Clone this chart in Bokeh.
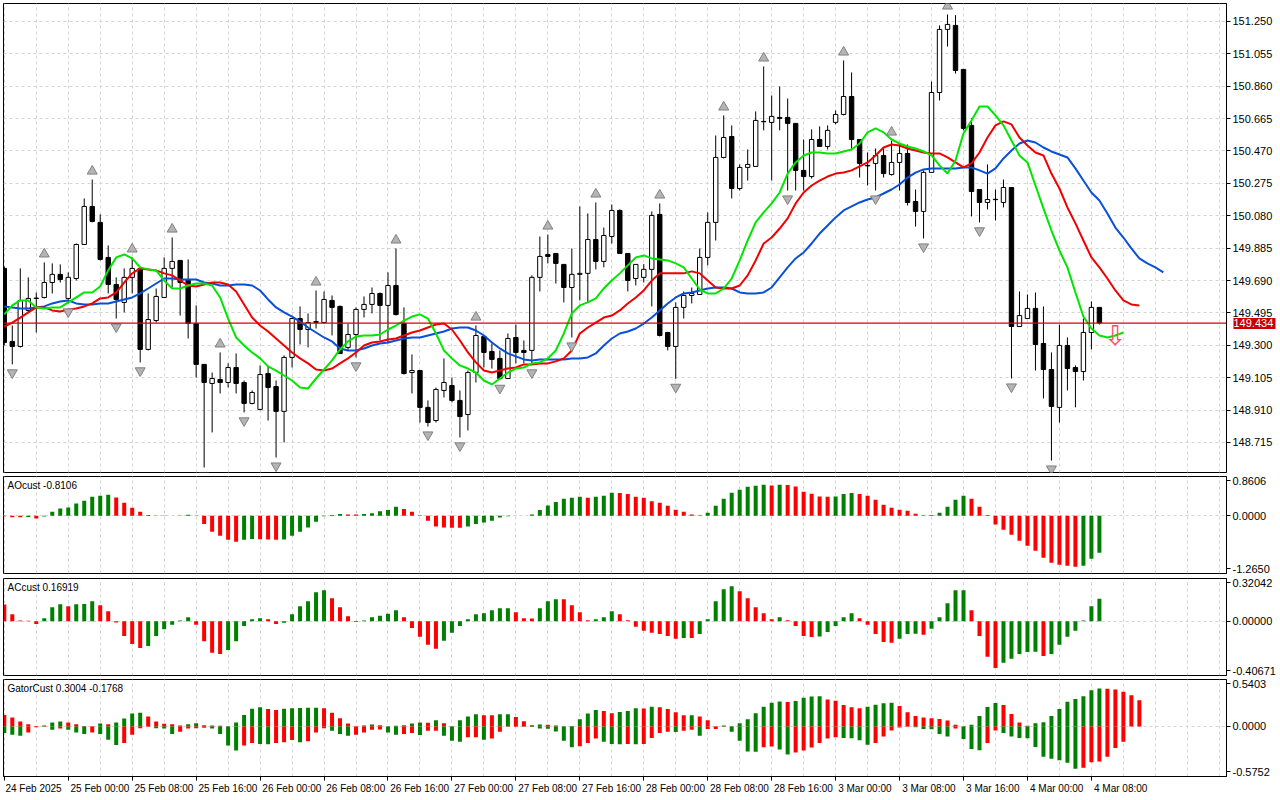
from bokeh.plotting import figure
from bokeh.layouts import column
from bokeh.models import Range1d, FixedTicker, LinearAxis, Label
from bokeh.embed import file_html
from bokeh.resources import INLINE
from bokeh.core.properties import value

# ---------------- data (H1 bars, 24 Feb 2025 16:00 -> 4 Mar 2025 09:00) ----------------
open_ = [149.763, 149.323, 149.293, 149.510, 149.584, 149.588, 149.678, 149.727, 149.582, 149.702,
         149.907, 150.136, 150.040, 149.829, 149.666, 149.558, 149.709, 149.763, 149.275, 149.449,
         149.588, 149.763, 149.811, 149.690, 149.431, 149.185, 149.070, 149.094, 149.076, 149.166,
         149.076, 148.950, 148.914, 149.130, 149.052, 148.902, 149.227, 149.461, 149.395, 149.437,
         149.437, 149.570, 149.534, 149.287, 149.365, 149.516, 149.546, 149.612, 149.540, 149.660,
         149.431, 149.136, 149.148, 148.926, 148.847, 149.028, 149.058, 148.968, 148.883, 149.136,
         149.353, 149.263, 149.221, 149.100, 149.347, 149.269, 149.269, 149.709, 149.847, 149.853,
         149.787, 149.648, 149.727, 149.733, 149.937, 149.805, 149.955, 150.112, 149.853, 149.702,
         149.709, 149.757, 150.088, 149.377, 149.293, 149.528, 149.600, 149.606, 149.829, 150.040,
         150.431, 150.557, 150.244, 150.371, 150.377, 150.648, 150.642, 150.672, 150.672, 150.636,
         150.353, 150.316, 150.539, 150.497, 150.642, 150.690, 150.798, 150.539, 150.383, 150.395,
         150.443, 150.328, 150.401, 150.455, 150.166, 150.106, 150.341, 150.822, 151.202, 151.226,
         150.961, 150.624, 150.238, 150.160, 150.179, 150.160, 150.250, 149.413, 149.461, 149.522,
         149.311, 149.154, 148.926, 149.299, 149.166, 149.142, 149.377, 149.528]
high = [149.775, 149.419, 149.763, 149.709, 149.618, 149.799, 149.793, 149.787, 149.739, 149.913,
        150.184, 150.298, 150.088, 149.901, 149.709, 149.763, 149.829, 149.769, 149.612, 149.642,
        149.829, 149.949, 149.813, 149.817, 149.540, 149.187, 149.136, 149.257, 149.191, 149.251,
        149.088, 149.028, 149.179, 149.173, 149.088, 149.239, 149.462, 149.534, 149.492, 149.630,
        149.624, 149.600, 149.540, 149.431, 149.528, 149.594, 149.648, 149.618, 149.739, 149.883,
        149.528, 149.245, 149.150, 148.968, 149.046, 149.221, 149.106, 149.028, 149.148, 149.419,
        149.359, 149.311, 149.269, 149.371, 149.425, 149.329, 149.721, 149.955, 149.967, 149.855,
        149.787, 149.883, 150.136, 150.094, 150.160, 150.009, 150.148, 150.118, 149.855, 149.789,
        149.789, 150.106, 150.154, 149.381, 149.558, 149.624, 149.648, 149.883, 150.100, 150.563,
        150.684, 150.624, 150.389, 150.479, 150.708, 150.979, 150.804, 150.858, 150.786, 150.638,
        150.539, 150.600, 150.618, 150.624, 150.714, 151.015, 150.943, 150.539, 150.461, 150.485,
        150.491, 150.533, 150.515, 150.509, 150.238, 150.353, 150.888, 151.226, 151.292, 151.288,
        150.963, 150.666, 150.240, 150.389, 150.238, 150.298, 150.252, 149.624, 149.606, 149.618,
        149.534, 149.257, 149.425, 149.347, 149.179, 149.461, 149.564, 149.530]
low = [149.299, 149.185, 149.287, 149.498, 149.377, 149.582, 149.612, 149.678, 149.552, 149.690,
       149.905, 150.040, 149.811, 149.612, 149.461, 149.498, 149.612, 149.197, 149.269, 149.437,
       149.586, 149.648, 149.479, 149.341, 149.106, 148.564, 148.775, 149.010, 149.046, 149.010,
       148.896, 148.944, 148.908, 148.847, 148.624, 148.715, 149.166, 149.305, 149.287, 149.401,
       149.431, 149.359, 149.249, 149.269, 149.227, 149.467, 149.492, 149.329, 149.311, 149.479,
       149.124, 149.010, 148.835, 148.811, 148.835, 148.986, 148.956, 148.745, 148.787, 149.076,
       149.166, 149.160, 149.092, 149.098, 149.191, 149.191, 149.185, 149.624, 149.793, 149.672,
       149.558, 149.347, 149.570, 149.558, 149.757, 149.769, 149.913, 149.851, 149.624, 149.660,
       149.678, 149.534, 149.353, 149.269, 149.098, 149.461, 149.552, 149.604, 149.781, 149.931,
       150.425, 150.184, 150.232, 150.292, 150.375, 150.594, 150.292, 150.594, 150.232, 150.232,
       150.232, 150.304, 150.495, 150.479, 150.630, 150.684, 150.485, 150.310, 150.262, 150.232,
       150.310, 150.322, 150.232, 150.142, 150.015, 149.943, 150.339, 150.774, 151.099, 150.936,
       150.594, 150.076, 150.040, 150.118, 150.052, 150.130, 149.100, 149.411, 149.459, 149.148,
       148.980, 148.606, 148.835, 149.028, 148.926, 149.088, 149.275, 149.425]
close = [149.317, 149.293, 149.570, 149.582, 149.582, 149.678, 149.727, 149.696, 149.709, 149.907,
         150.136, 150.046, 149.817, 149.666, 149.576, 149.709, 149.763, 149.275, 149.455, 149.594,
         149.763, 149.805, 149.678, 149.431, 149.185, 149.076, 149.100, 149.076, 149.166, 149.070,
         148.950, 149.016, 149.124, 149.046, 148.902, 149.227, 149.461, 149.395, 149.437, 149.443,
         149.576, 149.528, 149.251, 149.365, 149.516, 149.546, 149.612, 149.540, 149.660, 149.485,
         149.130, 149.148, 148.926, 148.835, 149.034, 149.076, 148.968, 148.871, 149.136, 149.359,
         149.257, 149.215, 149.100, 149.341, 149.257, 149.257, 149.709, 149.835, 149.835, 149.793,
         149.648, 149.727, 149.733, 149.937, 149.805, 149.961, 150.112, 149.853, 149.690, 149.787,
         149.757, 150.082, 149.359, 149.293, 149.528, 149.600, 149.612, 149.829, 150.040, 150.431,
         150.551, 150.244, 150.371, 150.389, 150.654, 150.646, 150.678, 150.666, 150.636, 150.353,
         150.316, 150.539, 150.497, 150.594, 150.690, 150.798, 150.539, 150.395, 150.380, 150.443,
         150.334, 150.401, 150.455, 150.160, 150.106, 150.341, 150.822, 151.202, 151.232, 150.955,
         150.606, 150.226, 150.160, 150.178, 150.177, 150.250, 149.413, 149.479, 149.522, 149.305,
         149.154, 148.932, 149.299, 149.160, 149.142, 149.377, 149.528, 149.434]

# alligator-style lines (green lips, red teeth, blue jaw), shifted forward
lips = [149.486, 149.540, 149.570, 149.570, 149.528, 149.522, 149.528, 149.528, 149.558, 149.588,
        149.618, 149.618, 149.654, 149.751, 149.829, 149.847, 149.823, 149.769, 149.757, 149.751,
        149.690, 149.642, 149.642, 149.660, 149.672, 149.672, 149.660, 149.588, 149.461, 149.347,
        149.299, 149.257, 149.221, 149.173, 149.148, 149.118, 149.088, 149.046, 149.040, 149.100,
        149.154, 149.209, 149.275, 149.323, 149.353, 149.359, 149.359, 149.365, 149.395, 149.419,
        149.449, 149.473, 149.486, 149.461, 149.371, 149.269, 149.221, 149.179, 149.160, 149.136,
        149.088, 149.064, 149.100, 149.136, 149.160, 149.166, 149.191, 149.197, 149.221, 149.269,
        149.371, 149.492, 149.540, 149.558, 149.582, 149.642, 149.690, 149.733, 149.781, 149.829,
        149.841, 149.823, 149.817, 149.811, 149.793, 149.769, 149.702, 149.636, 149.612, 149.612,
        149.642, 149.702, 149.811, 149.931, 150.040, 150.100, 150.154, 150.220, 150.334, 150.401,
        150.443, 150.461, 150.461, 150.455, 150.455, 150.467, 150.479, 150.515, 150.582, 150.606,
        150.582, 150.539, 150.515, 150.497, 150.485, 150.467, 150.443, 150.383, 150.334, 150.413,
        150.576, 150.654, 150.738, 150.738, 150.684, 150.624, 150.533, 150.443, 150.401, 150.262,
        150.124, 149.991, 149.871, 149.769, 149.618, 149.473, 149.401, 149.359, 149.347, 149.359,
        149.377]
teeth = [149.413, 149.437, 149.467, 149.498, 149.528, 149.528, 149.510, 149.504, 149.516, 149.522,
         149.534, 149.552, 149.582, 149.588, 149.618, 149.678, 149.733, 149.763, 149.757, 149.751,
         149.733, 149.721, 149.690, 149.660, 149.654, 149.666, 149.678, 149.678, 149.666, 149.624,
         149.546, 149.467, 149.419, 149.383, 149.341, 149.299, 149.257, 149.221, 149.191, 149.154,
         149.148, 149.160, 149.191, 149.221, 149.257, 149.299, 149.317, 149.323, 149.335, 149.341,
         149.359, 149.377, 149.389, 149.407, 149.425, 149.431, 149.395, 149.329, 149.257, 149.197,
         149.148, 149.136, 149.148, 149.160, 149.166, 149.185, 149.185, 149.191, 149.191, 149.203,
         149.221, 149.269, 149.371, 149.407, 149.437, 149.467, 149.479, 149.510, 149.552, 149.588,
         149.630, 149.690, 149.733, 149.733, 149.733, 149.733, 149.745, 149.733, 149.690, 149.648,
         149.642, 149.642, 149.660, 149.721, 149.811, 149.913, 149.949, 150.003, 150.064, 150.154,
         150.220, 150.262, 150.292, 150.316, 150.334, 150.340, 150.353, 150.377, 150.401, 150.443,
         150.491, 150.509, 150.503, 150.485, 150.473, 150.461, 150.455, 150.455, 150.431, 150.401,
         150.371, 150.395, 150.461, 150.551, 150.624, 150.648, 150.630, 150.551, 150.503, 150.461,
         150.443, 150.334, 150.244, 150.130, 150.034, 149.931, 149.829, 149.769, 149.702, 149.630,
         149.570, 149.546, 149.540]
jaw = [149.534, 149.528, 149.522, 149.522, 149.528, 149.534, 149.552, 149.564, 149.570, 149.552,
       149.546, 149.546, 149.552, 149.552, 149.564, 149.576, 149.588, 149.612, 149.642, 149.672,
       149.702, 149.702, 149.696, 149.696, 149.696, 149.678, 149.672, 149.660, 149.660, 149.666,
       149.666, 149.660, 149.630, 149.576, 149.528, 149.498, 149.473, 149.443, 149.407, 149.377,
       149.347, 149.323, 149.281, 149.269, 149.269, 149.281, 149.299, 149.311, 149.317, 149.329,
       149.341, 149.347, 149.347, 149.359, 149.371, 149.383, 149.401, 149.407, 149.407, 149.389,
       149.359, 149.317, 149.281, 149.251, 149.233, 149.215, 149.209, 149.215, 149.215, 149.215,
       149.215, 149.221, 149.221, 149.227, 149.251, 149.299, 149.341, 149.371, 149.383, 149.401,
       149.431, 149.467, 149.510, 149.552, 149.588, 149.612, 149.618, 149.630, 149.642, 149.648,
       149.648, 149.642, 149.618, 149.612, 149.612, 149.618, 149.648, 149.709, 149.769, 149.823,
       149.859, 149.913, 149.973, 150.021, 150.070, 150.112, 150.136, 150.160, 150.178, 150.190,
       150.214, 150.238, 150.268, 150.310, 150.340, 150.359, 150.365, 150.365, 150.365, 150.365,
       150.371, 150.371, 150.353, 150.334, 150.365, 150.425, 150.473, 150.515, 150.533, 150.521,
       150.491, 150.467, 150.449, 150.431, 150.365, 150.292, 150.220, 150.172, 150.094, 150.009,
       149.949, 149.883, 149.823, 149.793, 149.769, 149.739]

up_fractals = [5, 11, 16, 21, 27, 39, 49, 59, 68, 74, 82, 90, 95, 105, 111, 118]
down_fractals = [1, 8, 14, 17, 25, 30, 34, 44, 53, 57, 62, 66, 71, 84, 98, 109, 115, 122, 126, 131]
sell_signal_bars = [139]
sell_signal_prices = [149.36]

ao = [-0.010, -0.030, -0.034, -0.028, -0.058, -0.015, 0.088, 0.161, 0.183, 0.270,
      0.330, 0.417, 0.440, 0.460, 0.400, 0.285, 0.175, 0.088, 0.015, 0.008,
      0.005, 0.003, 0.008, 0.020, -0.005, -0.183, -0.350, -0.440, -0.526, -0.570,
      -0.526, -0.510, -0.515, -0.520, -0.526, -0.520, -0.440, -0.350, -0.256, -0.130,
      -0.010, 0.015, 0.037, 0.030, 0.028, 0.037, 0.058, 0.100, 0.124, 0.197,
      0.146, 0.088, 0.010, -0.110, -0.234, -0.256, -0.260, -0.262, -0.234, -0.183,
      -0.146, -0.110, -0.036, -0.010, 0.002, 0.000, 0.030, 0.124, 0.227, 0.300,
      0.373, 0.395, 0.417, 0.395, 0.417, 0.440, 0.504, 0.500, 0.475, 0.417,
      0.395, 0.320, 0.285, 0.220, 0.130, 0.088, 0.030, 0.010, 0.066, 0.220,
      0.373, 0.504, 0.570, 0.636, 0.658, 0.680, 0.665, 0.680, 0.675, 0.643,
      0.526, 0.480, 0.424, 0.417, 0.420, 0.475, 0.497, 0.475, 0.440, 0.350,
      0.240, 0.175, 0.130, 0.110, 0.044, 0.010, 0.015, 0.066, 0.197, 0.350,
      0.440, 0.373, 0.197, 0.015, -0.190, -0.307, -0.417, -0.548, -0.658, -0.768,
      -0.920, -1.030, -1.075, -1.097, -1.118, -1.097, -0.943, -0.8106]
ac = [0.125, 0.052, 0.005, 0.003, -0.020, 0.022, 0.105, 0.128, 0.112, 0.128,
      0.130, 0.150, 0.120, 0.075, -0.010, -0.110, -0.170, -0.200, -0.185, -0.110,
      -0.060, -0.027, 0.005, 0.030, -0.027, -0.150, -0.237, -0.245, -0.215, -0.150,
      -0.035, 0.015, 0.022, 0.015, -0.020, -0.012, 0.052, 0.112, 0.150, 0.217,
      0.232, 0.172, 0.105, 0.037, -0.005, 0.005, 0.030, 0.042, 0.057, 0.082,
      0.030, -0.050, -0.117, -0.177, -0.207, -0.147, -0.087, -0.035, 0.015, 0.052,
      0.060, 0.082, 0.097, 0.098, 0.067, 0.022, 0.021, 0.097, 0.150, 0.165,
      0.164, 0.120, 0.067, 0.007, 0.015, 0.030, 0.075, 0.052, 0.007, -0.042,
      -0.072, -0.087, -0.095, -0.110, -0.132, -0.125, -0.126, -0.095, 0.015, 0.150,
      0.240, 0.262, 0.225, 0.172, 0.105, 0.060, 0.015, 0.030, 0.007, -0.035,
      -0.110, -0.118, -0.115, -0.080, -0.035, 0.030, 0.060, 0.022, -0.027, -0.095,
      -0.155, -0.162, -0.132, -0.095, -0.094, -0.102, -0.057, 0.030, 0.135, 0.232,
      0.233, 0.082, -0.110, -0.267, -0.350, -0.312, -0.282, -0.245, -0.230, -0.229,
      -0.260, -0.245, -0.177, -0.117, -0.072, 0.005, 0.112, 0.16919]
gator_up = [0.133, 0.102, 0.057, 0.027, 0.005, 0.010, 0.045, 0.057, 0.045, 0.027,
            0.006, 0.003, 0.034, 0.027, 0.045, 0.091, 0.148, 0.159, 0.114, 0.057,
            0.030, 0.027, 0.011, 0.027, 0.038, 0.015, 0.011, 0.008, 0.004, 0.045,
            0.133, 0.205, 0.220, 0.201, 0.190, 0.205, 0.209, 0.212, 0.214, 0.216,
            0.209, 0.159, 0.095, 0.034, 0.003, 0.011, 0.023, 0.015, 0.004, 0.008,
            0.015, 0.034, 0.045, 0.043, 0.072, 0.038, 0.003, 0.072, 0.114, 0.140,
            0.129, 0.128, 0.140, 0.141, 0.110, 0.061, 0.015, 0.022, 0.020, 0.012,
            0.004, 0.006, 0.083, 0.148, 0.190, 0.178, 0.152, 0.167, 0.178, 0.209,
            0.207, 0.228, 0.220, 0.201, 0.163, 0.129, 0.130, 0.114, 0.072, 0.004,
            0.011, 0.003, 0.038, 0.083, 0.152, 0.228, 0.273, 0.288, 0.281, 0.292,
            0.330, 0.345, 0.347, 0.311, 0.296, 0.247, 0.220, 0.209, 0.228, 0.250,
            0.266, 0.273, 0.235, 0.163, 0.121, 0.102, 0.095, 0.087, 0.068, 0.019,
            0.004, 0.019, 0.121, 0.224, 0.270, 0.247, 0.144, 0.045, 0.008, 0.038,
            0.049, 0.121, 0.201, 0.284, 0.315, 0.349, 0.417, 0.436, 0.434, 0.425,
            0.398, 0.360, 0.3004]
gator_down = [-0.076, -0.095, -0.106, -0.068, -0.008, -0.004, -0.038, -0.023, -0.038, -0.068,
              -0.087, -0.068, -0.087, -0.152, -0.212, -0.190, -0.095, -0.019, -0.004, -0.019,
              -0.023, -0.087, -0.061, -0.023, -0.019, -0.015, -0.023, -0.087, -0.220, -0.277,
              -0.220, -0.190, -0.201, -0.203, -0.190, -0.182, -0.155, -0.182, -0.170, -0.068,
              -0.019, -0.049, -0.087, -0.106, -0.095, -0.068, -0.038, -0.036, -0.068, -0.095,
              -0.087, -0.076, -0.099, -0.049, -0.048, -0.106, -0.163, -0.175, -0.125, -0.124,
              -0.152, -0.137, -0.061, -0.004, -0.002, -0.004, -0.005, -0.023, -0.025, -0.057,
              -0.163, -0.239, -0.228, -0.190, -0.137, -0.175, -0.201, -0.203, -0.201, -0.204,
              -0.201, -0.133, -0.076, -0.061, -0.063, -0.049, -0.038, -0.106, -0.030, -0.028,
              -0.004, -0.061, -0.163, -0.288, -0.290, -0.239, -0.231, -0.266, -0.322, -0.300,
              -0.277, -0.243, -0.190, -0.137, -0.125, -0.133, -0.135, -0.159, -0.209, -0.190,
              -0.114, -0.045, -0.011, -0.004, -0.008, -0.030, -0.032, -0.087, -0.114, -0.023,
              -0.144, -0.258, -0.273, -0.190, -0.045, -0.076, -0.114, -0.133, -0.134, -0.235,
              -0.349, -0.372, -0.387, -0.417, -0.485, -0.474, -0.410, -0.402, -0.349, -0.247,
              -0.1768]

price_ticks = [151.250, 151.055, 150.860, 150.665, 150.470, 150.275, 150.080,
               149.885, 149.690, 149.495, 149.300, 149.105, 148.910, 148.715]
price_range = (148.534, 151.358)
ao_range = (-1.2650, 0.8606)
ac_range = (-0.40671, 0.32042)
gator_range = (-0.5752, 0.5403)
time_label_bars = [0, 8, 16, 24, 32, 40, 48, 56, 64, 72, 80, 88, 96, 104, 112, 120, 128, 136]
time_labels = ["24 Feb 2025", "25 Feb 00:00", "25 Feb 08:00", "25 Feb 16:00", "26 Feb 00:00",
               "26 Feb 08:00", "26 Feb 16:00", "27 Feb 00:00", "27 Feb 08:00", "27 Feb 16:00",
               "28 Feb 00:00", "28 Feb 08:00", "28 Feb 16:00", "3 Mar 00:00", "3 Mar 08:00",
               "3 Mar 16:00", "4 Mar 00:00", "4 Mar 08:00"]

# ---------------- styling ----------------
FONT = "Liberation Sans"
FS = "10px"
FS_Y = "11px"
GRID = "#d4d4d4"
GREEN_H = "#008000"
RED_H = "#ff0000"
PRICE_RED = "#e00000"
TAG_RED = "#c80000"
FW = 1223
XR = Range1d(-0.1, 152.9)


def make_fig(frame_h, yrange, ticks, labels, grid_ticks, bottom=False, top_border=2,
             bottom_border=2):
    p = figure(frame_width=FW, frame_height=frame_h, x_range=XR,
               y_range=Range1d(*yrange), output_backend="svg", toolbar_location=None,
               y_axis_location="right", x_axis_location="below" if bottom else None,
               min_border_left=3, min_border_right=54, min_border_top=top_border,
               min_border_bottom=bottom_border)
    p.outline_line_color = "black"
    p.outline_line_width = 1
    p.background_fill_color = "white"
    p.border_fill_color = "white"
    p.xgrid.ticker = FixedTicker(ticks=list(range(0, 153, 4)))
    p.xgrid.grid_line_color = GRID
    p.xgrid.grid_line_dash = "3 3"
    p.ygrid.ticker = FixedTicker(ticks=grid_ticks)
    p.ygrid.grid_line_color = GRID
    p.ygrid.grid_line_dash = "3 3"
    ya = p.yaxis[0]
    ya.ticker = FixedTicker(ticks=ticks)
    ya.major_label_overrides = dict(zip(ticks, labels))
    ya.major_tick_out = 4
    ya.major_tick_in = 0
    ya.minor_tick_out = 0
    ya.minor_tick_in = 0
    ya.axis_line_color = "black"
    ya.major_label_standoff = 2
    ya.major_label_text_font = FONT
    ya.major_label_text_font_size = FS_Y
    ya.major_label_text_color = "black"
    return p


def edge_ticks(rng):
    lo, hi = rng
    span = hi - lo
    return [hi - 0.045 * span, 0, lo + 0.05 * span]


def rise_colors(vals, magnitude=False, first=RED_H):
    cols = [first]
    for a, b in zip(vals[:-1], vals[1:]):
        up = abs(b) > abs(a) if magnitude else b > a
        cols.append(GREEN_H if up else RED_H)
    return cols


def add_title(p, frame_h, text):
    p.add_layout(Label(x=4, y=frame_h - 3, x_units="screen", y_units="screen", text=text,
                       text_font=FONT, text_font_size=FS, text_baseline="top",
                       text_color="black"))


N = len(close)
idx = list(range(N))

# ---------------- main price panel ----------------
pm = make_fig(469, price_range, price_ticks, [f"{t:.3f}" for t in price_ticks], price_ticks,
              top_border=3, bottom_border=2)

pm.segment(x0=idx, y0=low, x1=idx, y1=high, line_color="black", line_width=1)
inc = [i for i in idx if close[i] >= open_[i]]
dec = [i for i in idx if close[i] < open_[i]]
pm.vbar(x=inc, width=0.55, top=[close[i] for i in inc], bottom=[open_[i] for i in inc],
        fill_color="white", line_color="black", line_width=1)
pm.vbar(x=dec, width=0.55, top=[open_[i] for i in dec], bottom=[close[i] for i in dec],
        fill_color="black", line_color="black", line_width=1)

pm.line(list(range(len(jaw))), jaw, line_color="#0a4fd8", line_width=2)
pm.line(list(range(len(teeth))), teeth, line_color="#f00000", line_width=2)
pm.line(list(range(len(lips))), lips, line_color="#00e600", line_width=2)

pm.scatter(x=up_fractals, y=[high[i] + 0.05 for i in up_fractals], marker="triangle",
           size=10, fill_color="#b4b4b4", line_color="#808080", line_width=1)
pm.scatter(x=down_fractals, y=[low[i] - 0.05 for i in down_fractals],
           marker="inverted_triangle", size=10, fill_color="#b4b4b4", line_color="#808080",
           line_width=1)

pm.text(x=sell_signal_bars, y=sell_signal_prices, text=["\u21e9"] * len(sell_signal_bars),
        text_font=value("DejaVu Sans"), text_font_size="27px", text_color="#ff4f6f",
        text_align="center", text_baseline="middle")

# current (bid) price line and its tag on the price scale
last = close[-1]
pm.segment(x0=[XR.start], y0=[last], x1=[XR.end], y1=[last], line_color=PRICE_RED,
           line_width=1.3)
tag_axis = LinearAxis(ticker=FixedTicker(ticks=[last]),
                      major_label_overrides={last: f"{last:.3f}"},
                      major_tick_in=42, major_tick_out=0, minor_tick_in=0, minor_tick_out=0,
                      major_tick_line_color=TAG_RED, major_tick_line_width=11,
                      axis_line_color=None, major_label_standoff=-42,
                      major_label_text_color="white", major_label_text_font=FONT,
                      major_label_text_font_size=FS_Y)
pm.add_layout(tag_axis, "right")

# ---------------- AO ----------------
SH = 97
pa = make_fig(SH, ao_range, edge_ticks(ao_range), ["0.8606", "0.0000", "-1.2650"], [0],
              top_border=2, bottom_border=2)
pa.vbar(x=list(range(len(ao))), top=ao, bottom=0, width=0.5,
        fill_color=rise_colors(ao), line_color=None)
add_title(pa, SH, f"AOcust {ao[-1]:.4f}")

# ---------------- AC ----------------
pc = make_fig(SH, ac_range, edge_ticks(ac_range), ["0.32042", "0.00000", "-0.40671"], [0],
              top_border=3, bottom_border=1)
pc.vbar(x=list(range(len(ac))), top=ac, bottom=0, width=0.5,
        fill_color=rise_colors(ac), line_color=None)
add_title(pc, SH, f"ACcust {ac[-1]:.5f}")

# ---------------- Gator ----------------
pg = make_fig(SH, gator_range, edge_ticks(gator_range), ["0.5403", "0.0000", "-0.5752"], [0],
              bottom=True, top_border=3, bottom_border=2)
pg.vbar(x=list(range(len(gator_up))), top=gator_up, bottom=0, width=0.5,
        fill_color=rise_colors(gator_up), line_color=None)
pg.vbar(x=list(range(len(gator_down))), top=0, bottom=gator_down, width=0.5,
        fill_color=rise_colors(gator_down, magnitude=True, first=GREEN_H), line_color=None)
add_title(pg, SH, f"GatorCust {gator_up[-1]:.4f} {gator_down[-1]:.4f}")

# time axis: labels start at the tick (as in the terminal), tick marks drawn as minor ticks
label_pos = [b + 0.25 + 0.31 * len(s) for b, s in zip(time_label_bars, time_labels)]
xa = pg.xaxis[0]
xa.ticker = FixedTicker(ticks=label_pos, minor_ticks=time_label_bars)
xa.major_label_overrides = dict(zip(label_pos, time_labels))
xa.major_tick_out = 0
xa.major_tick_in = 0
xa.minor_tick_out = 4
xa.minor_tick_in = 0
xa.minor_tick_line_color = "black"
xa.axis_line_color = "black"
xa.major_label_standoff = 2
xa.major_label_text_font = FONT
xa.major_label_text_font_size = FS
xa.major_label_text_color = "black"

layout = column(pm, pa, pc, pg, spacing=0)
open("out.html", "w").write(file_html(layout, INLINE))
